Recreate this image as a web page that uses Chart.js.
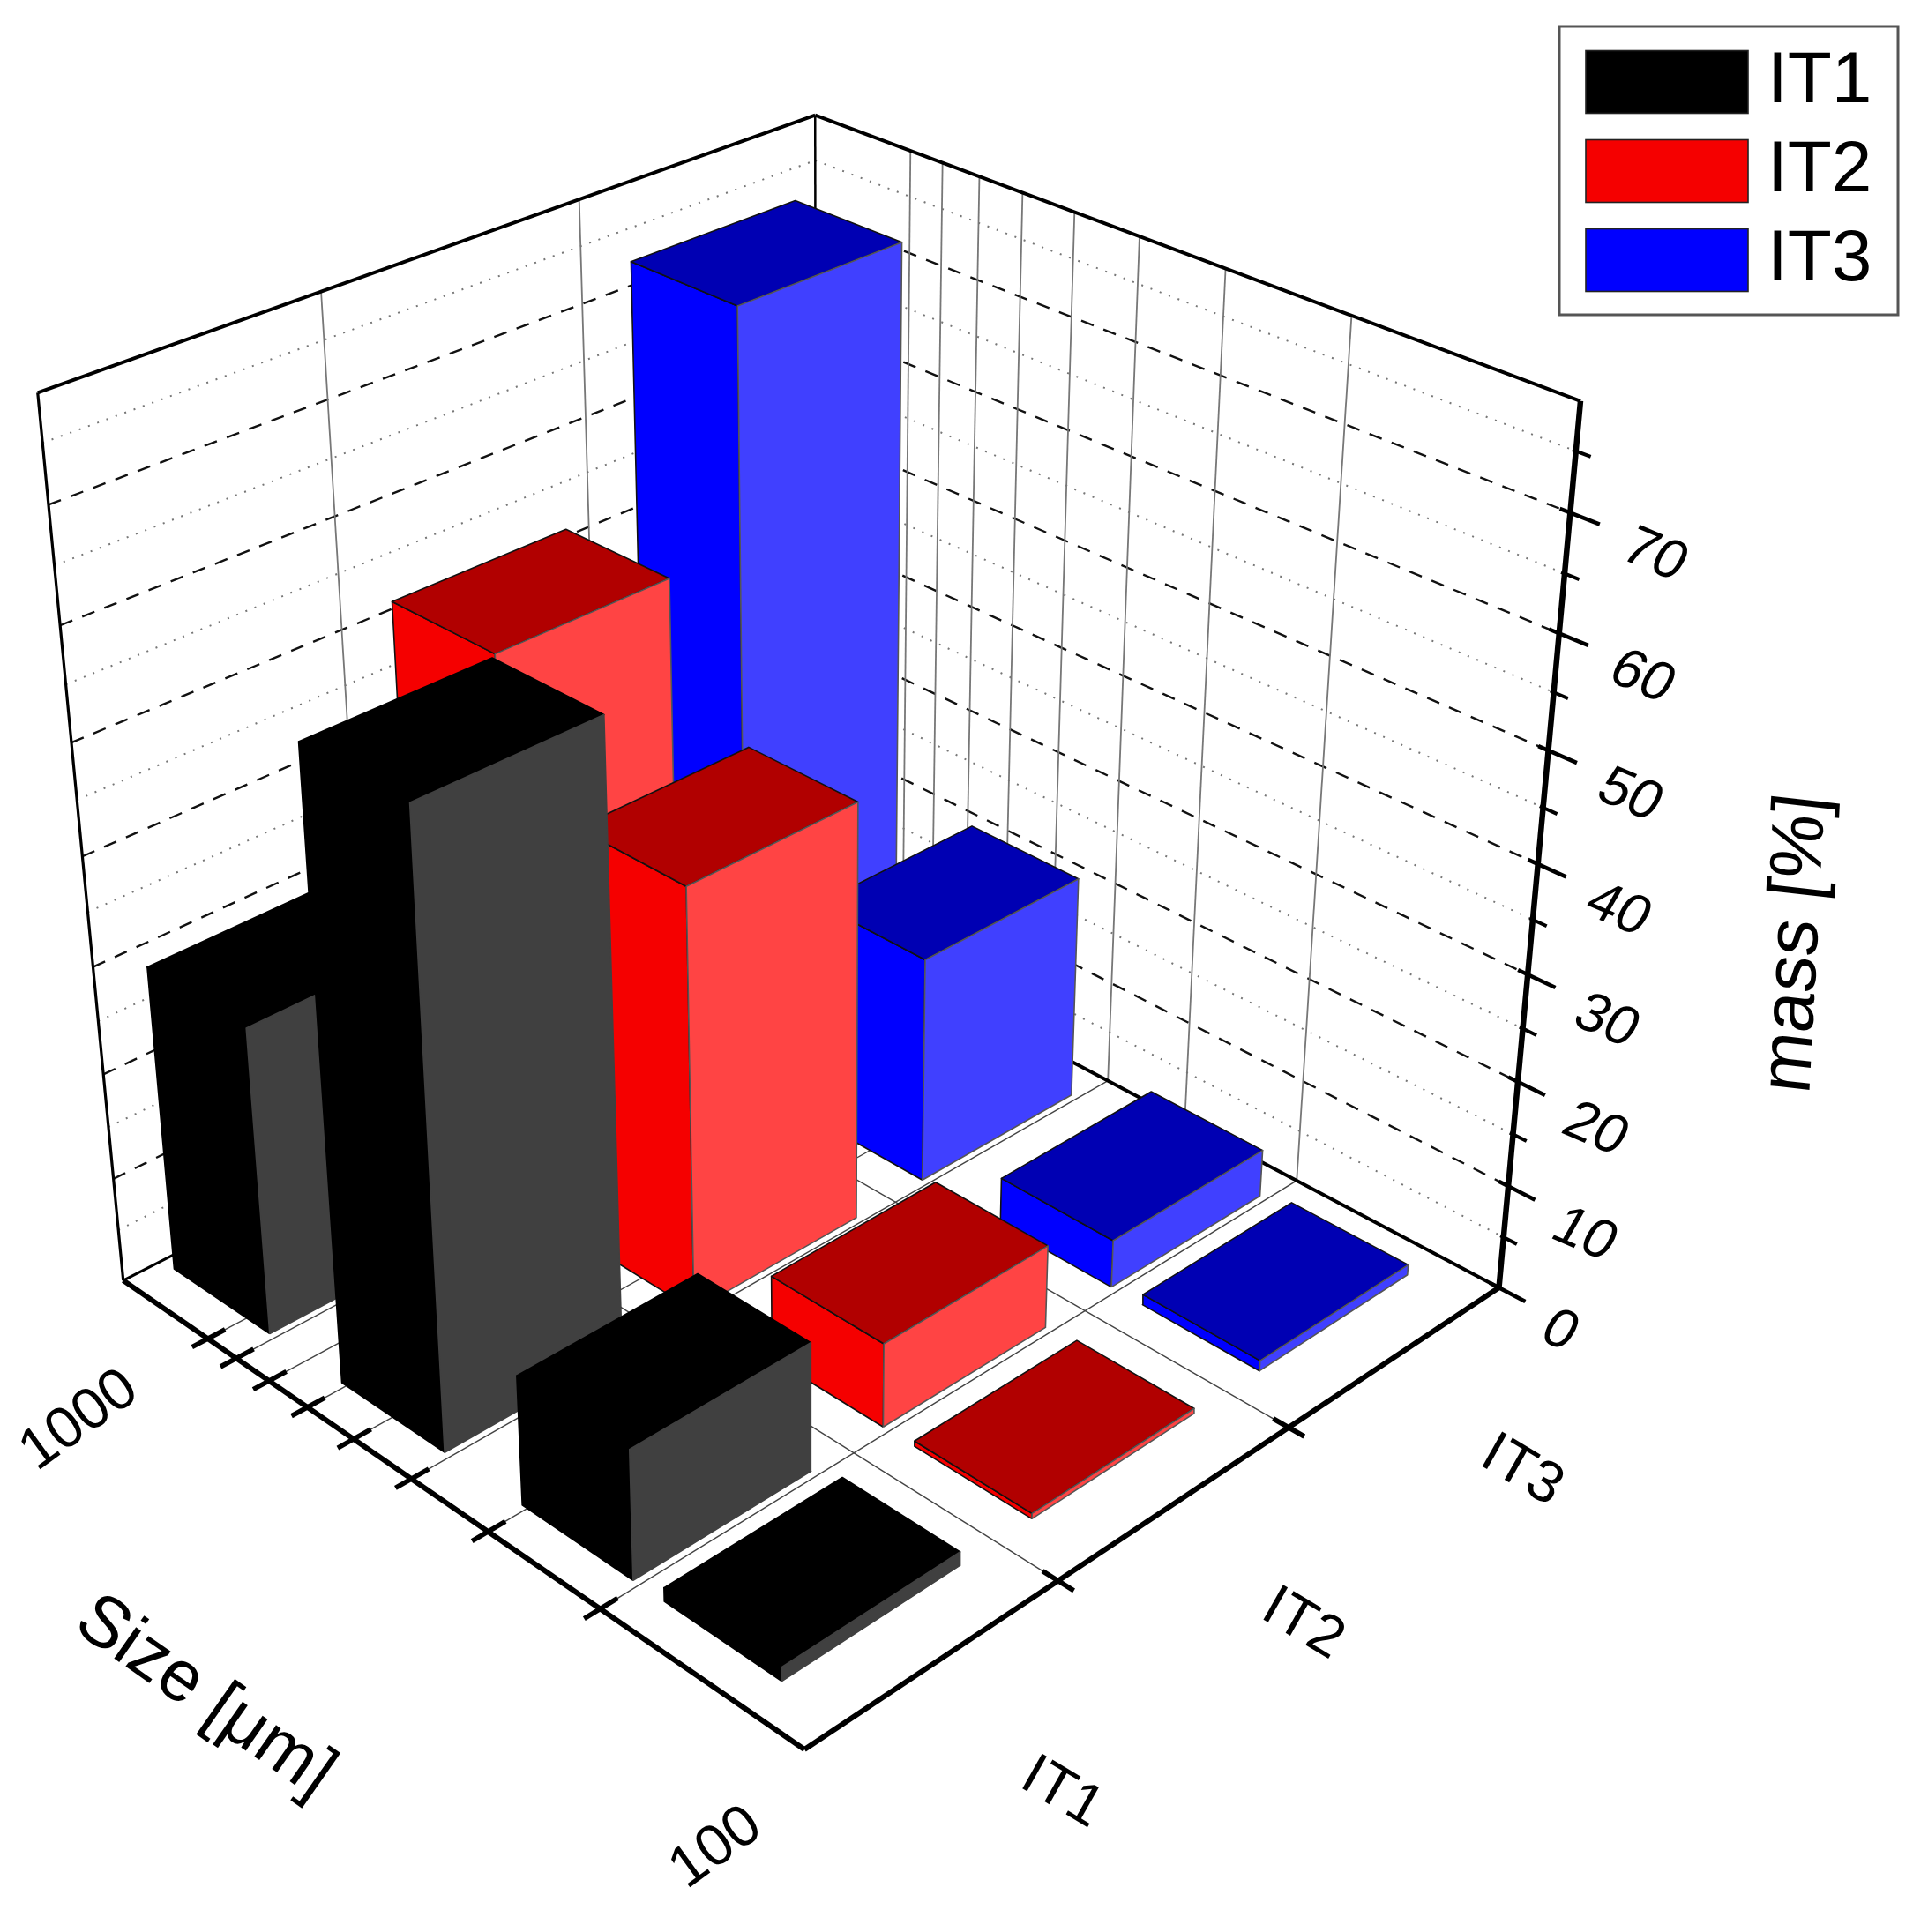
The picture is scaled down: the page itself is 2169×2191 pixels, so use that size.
<!DOCTYPE html>
<html><head><meta charset="utf-8">
<style>html,body{margin:0;padding:0;background:#fff}canvas{display:block}</style>
<script src="https://cdn.jsdelivr.net/npm/chart.js@4/dist/chart.umd.min.js"></script>
</head><body><canvas id="c" width="2169" height="2191"></canvas>
<script>
// ---- data ----
const seriesNames = ['IT1', 'IT2', 'IT3'];
const sizes = [150, 250, 500, 1000];
const IT1 = [1.3, 12.2, 57.7, 29];
const IT2 = [0.5, 8, 39.8, 51.7];
const IT3 = [1, 4.6, 21.8, 73];
const massMajorTicks = [0, 10, 20, 30, 40, 50, 60, 70];
const massMinorTicks = [5, 15, 25, 35, 45, 55, 65, 75];
const sizeMinorTicks = [200, 300, 400, 500, 600, 700, 800, 900];
const sizeTickLabels = [100, 1000];
const massTitle = 'mass [%]';
const sizeTitle = 'Size [\u03bcm]';
const seriesValues = [IT1, IT2, IT3];

// ---- styles ----
const faceColors = [
  {left:'#000000', right:'#404040', top:'#000000', lStroke:'#000000', rStroke:'#404040', tStroke:'#000000'},
  {left:'#F50000', right:'#FF4444', top:'#B10000', lStroke:'#111111', rStroke:'#555555', tStroke:'#111111'},
  {left:'#0000FF', right:'#4040FF', top:'#0000B3', lStroke:'#111111', rStroke:'#555555', tStroke:'#111111'}
];
const legendSwatch = ['#000000', '#F50000', '#0000FF'];
const massAxisMax = 79, sizeAxisMin = 100, sizeAxisMax = 1288;
const barHalfWidth = 0.117, barHalfDepth = 0.0785;

// ---- camera: fitted from the seven visible corners of the plot box ----
const corners = [
  [0,0,0, 915,1985],[1,0,0, 1697,1461],[0,1,0, 137,1449],[1,1,0, 928,1052],
  [0,1,1, 43,448],[1,1,1, 924,130],[1,0,1, 1792,453]
];
function fitCamera(pts){
  const A=[],b=[];
  pts.forEach(([X,Y,Z,u0,v0])=>{const u=u0/1000,v=v0/1000;
    A.push([X,Y,Z,1,0,0,0,0,-u*X,-u*Y,-u*Z]);b.push(u);
    A.push([0,0,0,0,X,Y,Z,1,-v*X,-v*Y,-v*Z]);b.push(v);});
  const n=11,M=[];
  for(let i=0;i<n;i++){const r=[];for(let j=0;j<n;j++){let s=0;A.forEach(a=>s+=a[i]*a[j]);r.push(s);}
    let s=0;A.forEach((a,k)=>s+=a[i]*b[k]);r.push(s);M.push(r);}
  for(let i=0;i<n;i++){let p=i;for(let k=i+1;k<n;k++)if(Math.abs(M[k][i])>Math.abs(M[p][i]))p=k;
    [M[i],M[p]]=[M[p],M[i]];
    for(let k=0;k<n;k++){if(k===i)continue;const f=M[k][i]/M[i][i];for(let j=i;j<=n;j++)M[k][j]-=f*M[i][j];}}
  return M.map((r,i)=>r[n]/r[i]);
}
const cam = fitCamera(corners);
function project(x,y,z){
  const w=cam[8]*x+cam[9]*y+cam[10]*z+1;
  return {x:1000*(cam[0]*x+cam[1]*y+cam[2]*z+cam[3])/w, y:1000*(cam[4]*x+cam[5]*y+cam[6]*z+cam[7])/w};
}
const sizePos = v => Math.log10(v/sizeAxisMin)/Math.log10(sizeAxisMax/sizeAxisMin);
const massPos = m => m/massAxisMax;
const catPos = i => (i+0.5)/seriesNames.length;
const catEdge = i => i/seriesNames.length;

// ---- dataset builders ----
const layers = [];
function stroke(label,a,b,color,width,dash){
  layers.push({label,data:[project(...a),project(...b)],showLine:true,fill:false,borderColor:color,borderWidth:width,borderDash:dash||[],pointRadius:0,borderCapStyle:'butt'});
}
function face(label,pts,fill,edge){
  const p=pts.map(q=>project(...q));p.push(p[0]);
  layers.push({label,data:p,showLine:true,fill:'shape',backgroundColor:fill,borderColor:edge,borderWidth:1.6,pointRadius:0,borderJoinStyle:'round'});
}
// walls: dotted and dashed mass lines
massMinorTicks.forEach(m=>{const z=massPos(m);
  stroke('grid',[0,1,z],[1,1,z],'#777',2,[2,9]);
  stroke('grid',[1,1,z],[1,0,z],'#777',2,[2,9]);});
massMajorTicks.slice(1).forEach(m=>{const z=massPos(m);
  stroke('grid',[0,1,z],[1,1,z],'#111',2.4,[15,12]);
  stroke('grid',[1,1,z],[1,0,z],'#111',2.4,[15,12]);});
// walls and floor: solid lines
sizeMinorTicks.forEach(v=>{const y=sizePos(v);
  stroke('grid',[1,y,0],[1,y,1],'#777',1.8);
  stroke('grid',[0,y,0],[1,y,0],'#444',1.4);
  stroke('tick',[-0.02,y,0],[0.022,y,0],'#000',5.5);});
[1,2].forEach(i=>{const x=catEdge(i);
  stroke('grid',[x,1,0],[x,1,1],'#777',1.8);
  stroke('grid',[x,0,0],[x,1,0],'#444',1.4);
  stroke('tick',[x,-0.02,0],[x,0.02,0],'#000',5.5);});
// mass axis ticks
massMajorTicks.forEach(m=>stroke('tick',[1,0.012,massPos(m)],[1,-0.034,massPos(m)],'#000',4.5));
massMinorTicks.forEach(m=>stroke('tick',[1,0.004,massPos(m)],[1,-0.017,massPos(m)],'#000',4));
// box frame
stroke('frame',[0,1,1],[1,1,1],'#000',4);
stroke('frame',[1,1,1],[1,0,1],'#000',4);
stroke('frame',[0,1,0],[0,1,1],'#000',3.2);
stroke('frame',[1,1,0],[1,1,1],'#000',2.5);
stroke('frame',[0,1,0],[1,1,0],'#000',3);
stroke('frame',[1,1,0],[1,0,0],'#000',4);
stroke('axis',[0,1,0],[0,0,0],'#000',6);
stroke('axis',[0,0,0],[1,0,0],'#000',6);
stroke('axis',[1,0,0],[1,0,1],'#000',6.5);
// bars, far to near
for(let s=seriesNames.length-1;s>=0;s--){
  for(let r=sizes.length-1;r>=0;r--){
    const xc=catPos(s),yc=sizePos(sizes[r]),h=massPos(seriesValues[s][r]);
    const x0=xc-barHalfWidth,x1=xc+barHalfWidth,y0=yc-barHalfDepth,y1=yc+barHalfDepth;
    const c=faceColors[s],name=seriesNames[s];
    face(name,[[x0,y0,0],[x0,y1,0],[x0,y1,h],[x0,y0,h]],c.left,c.lStroke);
    face(name,[[x0,y0,h],[x0,y1,h],[x1,y1,h],[x1,y0,h]],c.top,c.tStroke);
    face(name,[[x0,y0,0],[x1,y0,0],[x1,y0,h],[x0,y0,h]],c.right,c.rStroke);
  }
}
layers.reverse(); // Chart.js paints the first dataset last

// ---- text ----
const deg=Math.PI/180, FONT='"Liberation Sans", Arial, sans-serif';
function labelList(){
  const out=[];
  massMajorTicks.forEach(m=>{const p=project(1,-0.1,massPos(m));
    out.push({t:String(m),x:p.x-4,y:p.y+10,a:23,b:30,size:64,sx:0.98,leftAlign:true});});
  seriesNames.forEach((n,i)=>{const p=project(catPos(i),-0.165,0);
    out.push({t:n,x:p.x-6,y:p.y+49,a:31,b:29.5,size:66,sx:1});});
  sizeTickLabels.forEach(v=>{const p=project(0,sizePos(v),0);
    const off=v===sizeAxisMin?[-100,112]:[-117,113];
    out.push({t:String(v),x:p.x+off[0],y:p.y+off[1],a:-36,b:-36,size:66,sx:1});});
  out.push({t:massTitle,x:2037,y:1070,a:-87,b:-83.5,size:84,sx:0.98});
  out.push({t:sizeTitle,x:232,y:1925,a:35,b:35,size:82,sx:0.98});
  return out;
}
const annotate={id:'annotate',
  afterLayout(chart){const l=chart.legend;l.left=1798;l.right=2152;l.top=33;l.bottom=2191;},
  beforeDraw(chart){const c=chart.ctx;c.save();c.fillStyle='#fff';c.fillRect(0,0,chart.width,chart.height);c.restore();},
  afterDraw(chart){
    const c=chart.ctx,sx=chart.scales.x,sy=chart.scales.y;
    c.save();
    c.strokeStyle='#555';c.lineWidth=3;c.strokeRect(1768,30,384,327);
    c.strokeStyle='#222';c.lineWidth=1.6;
    seriesNames.forEach((n,i)=>c.strokeRect(1798,57.5+101*i,184,71));
    c.fillStyle='#000';c.textBaseline='middle';
    labelList().forEach(l=>{
      c.save();
      const a=l.a*deg,b=l.b*deg;
      c.transform(Math.cos(a)*l.sx,Math.sin(a)*l.sx,-Math.sin(b),Math.cos(b),sx.getPixelForValue(l.x),sy.getPixelForValue(l.y));
      c.font=l.size+'px '+FONT;
      if(l.leftAlign){c.textAlign='left';c.fillText(l.t,-l.size*0.556,0);}
      else{c.textAlign='center';c.fillText(l.t,0,0);}
      c.restore();
    });
    c.restore();
  }};

new Chart(document.getElementById('c'),{
  type:'scatter',
  data:{datasets:layers},
  plugins:[annotate],
  options:{
    responsive:false,animation:false,devicePixelRatio:1,
    layout:{padding:0},
    scales:{
      x:{type:'linear',min:0,max:2169,display:false},
      y:{type:'linear',min:0,max:2191,reverse:true,display:false}
    },
    plugins:{
      tooltip:{enabled:false},
      title:{display:false},
      legend:{
        display:true,position:'chartArea',align:'start',onClick:null,
        labels:{
          font:{family:FONT,size:82},color:'#000',boxWidth:146,boxHeight:33,padding:19,
          generateLabels:()=>seriesNames.map((n,i)=>({text:n,fillStyle:legendSwatch[i],strokeStyle:legendSwatch[i],lineWidth:38,hidden:false,datasetIndex:0}))
        }
      }
    }
  }
});
</script></body></html>
